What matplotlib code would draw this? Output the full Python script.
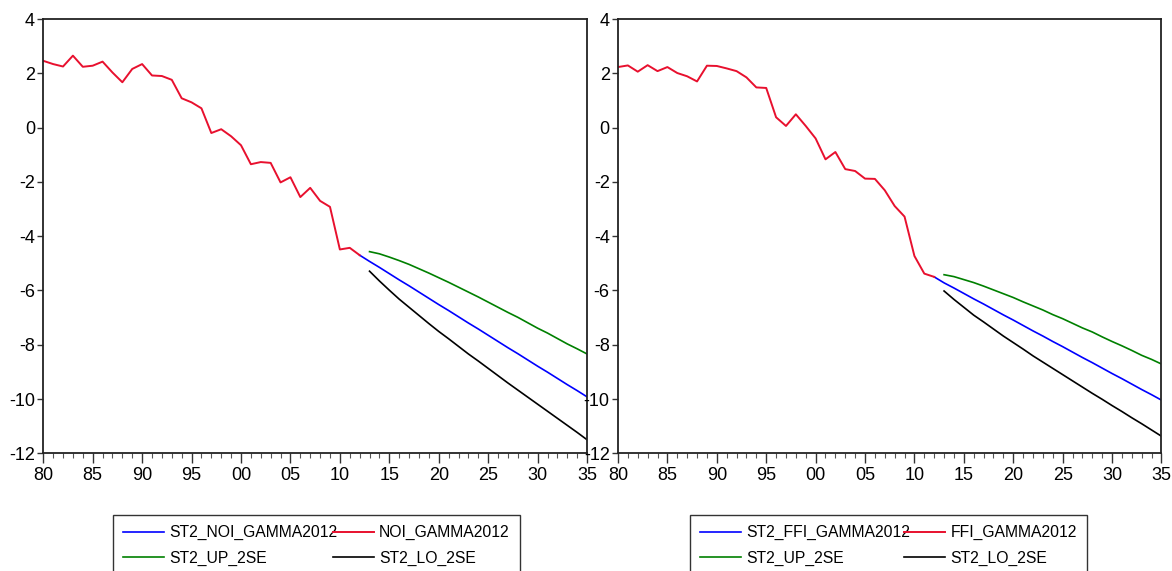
import matplotlib
matplotlib.use("Agg")
import matplotlib.pyplot as plt
from matplotlib.ticker import MultipleLocator, FuncFormatter

plt.rcParams['font.family'] = ['Liberation Sans', 'DejaVu Sans']
plt.rcParams['axes.unicode_minus'] = False

# observed years and forecast years
years_hist = list(range(1980, 2013))
years_fc = list(range(2012, 2036))
years_band = list(range(2013, 2036))

# left panel: NOI
noi_actual = [2.46, 2.34, 2.25, 2.65, 2.24, 2.28, 2.43, 2.03, 1.67, 2.16,
              2.34, 1.92, 1.90, 1.76, 1.08, 0.93, 0.71, -0.20, -0.06, -0.32,
              -0.65, -1.35, -1.27, -1.30, -2.02, -1.83, -2.56, -2.22, -2.70, -2.92,
              -4.49, -4.43, -4.70]
noi_fc = [-4.70, -4.93, -5.15, -5.38, -5.61, -5.83, -6.06, -6.29, -6.52, -6.74,
          -6.97, -7.20, -7.42, -7.65, -7.88, -8.11, -8.33, -8.56, -8.79, -9.01,
          -9.24, -9.47, -9.69, -9.92]
noi_up = [-4.57, -4.65, -4.77, -4.90, -5.04, -5.20, -5.36, -5.53, -5.70, -5.88,
          -6.06, -6.24, -6.43, -6.62, -6.81, -6.99, -7.19, -7.39, -7.57, -7.77,
          -7.97, -8.15, -8.34]
noi_lo = [-5.29, -5.65, -5.99, -6.32, -6.62, -6.92, -7.22, -7.51, -7.78, -8.06,
          -8.34, -8.60, -8.87, -9.14, -9.41, -9.67, -9.93, -10.19, -10.45, -10.71,
          -10.97, -11.23, -11.50]

# right panel: FFI
ffi_actual = [2.23, 2.29, 2.06, 2.30, 2.08, 2.23, 2.01, 1.89, 1.70, 2.28,
              2.27, 2.18, 2.08, 1.85, 1.48, 1.46, 0.38, 0.06, 0.49, 0.06,
              -0.40, -1.17, -0.90, -1.53, -1.60, -1.88, -1.89, -2.31, -2.89, -3.28,
              -4.73, -5.38, -5.50]
ffi_fc = [-5.50, -5.72, -5.91, -6.11, -6.31, -6.50, -6.70, -6.90, -7.09, -7.29,
          -7.49, -7.68, -7.88, -8.07, -8.27, -8.47, -8.66, -8.86, -9.06, -9.25,
          -9.45, -9.65, -9.84, -10.04]
ffi_up = [-5.42, -5.49, -5.60, -5.71, -5.84, -5.98, -6.12, -6.26, -6.42, -6.57,
          -6.72, -6.89, -7.04, -7.21, -7.38, -7.53, -7.71, -7.88, -8.04, -8.21,
          -8.39, -8.54, -8.71]
ffi_lo = [-6.02, -6.33, -6.62, -6.91, -7.16, -7.42, -7.68, -7.92, -8.16, -8.41,
          -8.64, -8.87, -9.10, -9.33, -9.56, -9.79, -10.01, -10.24, -10.46, -10.69,
          -10.91, -11.14, -11.37]

panels = [
    ("NOI", noi_actual, noi_fc, noi_up, noi_lo),
    ("FFI", ffi_actual, ffi_fc, ffi_up, ffi_lo),
]

RED = '#E8102E'
BLUE = '#0000FF'
GREEN = '#008000'
lw = 1.2

fig = plt.figure(figsize=(11.72, 5.71), dpi=100)
positions = [[0.0369, 0.2061, 0.4640, 0.7606],
             [0.5273, 0.2061, 0.4637, 0.7606]]
legend_x = [113 / 1172, 690 / 1172]
legend_w = [407 / 1172, 397 / 1172]
legend_top = 1 - 515 / 571

for pos, lx, lwid, (name, actual, fc, up, lo) in zip(positions, legend_x, legend_w, panels):
    ax = fig.add_axes(pos)
    h_fc, = ax.plot(years_fc, fc, color=BLUE, lw=lw)
    h_up, = ax.plot(years_band, up, color=GREEN, lw=lw)
    h_lo, = ax.plot(years_band, lo, color='black', lw=lw)
    h_act, = ax.plot(years_hist, actual, color=RED, lw=lw + 0.2)

    ax.set_xlim(1980, 2035)
    ax.set_ylim(-12, 4)
    ax.set_yticks(range(-12, 5, 2))
    ax.xaxis.set_major_locator(MultipleLocator(5))
    ax.xaxis.set_minor_locator(MultipleLocator(1))
    ax.xaxis.set_major_formatter(FuncFormatter(lambda v, p: '%02d' % (int(round(v)) % 100)))
    ax.tick_params(axis='x', which='major', length=7, width=1.0, labelsize=13, pad=3, color='#333333')
    ax.tick_params(axis='x', which='minor', length=3.5, width=0.8, color='#555555')
    ax.tick_params(axis='y', length=4, width=1.0, labelsize=13, pad=2, color='#333333')
    for s in ax.spines.values():
        s.set_linewidth(1.3)
        s.set_color('#222222')

    # column-wise fill: col 1 = forecast, upper; col 2 = actual, lower
    leg = fig.legend([h_fc, h_up, h_act, h_lo],
                     ['ST2_%s_GAMMA2012' % name, 'ST2_UP_2SE', '%s_GAMMA2012' % name, 'ST2_LO_2SE'],
                     ncol=2, loc='upper left', bbox_to_anchor=(lx, legend_top, lwid, 0),
                     mode='expand', frameon=True, fancybox=False, edgecolor='black',
                     fontsize=11.3, handlelength=2.6, handletextpad=0.35, columnspacing=0.5,
                     borderpad=0.65, labelspacing=0.65, borderaxespad=0)
    leg.get_frame().set_linewidth(1.0)

fig.savefig('out.png', dpi=100)
